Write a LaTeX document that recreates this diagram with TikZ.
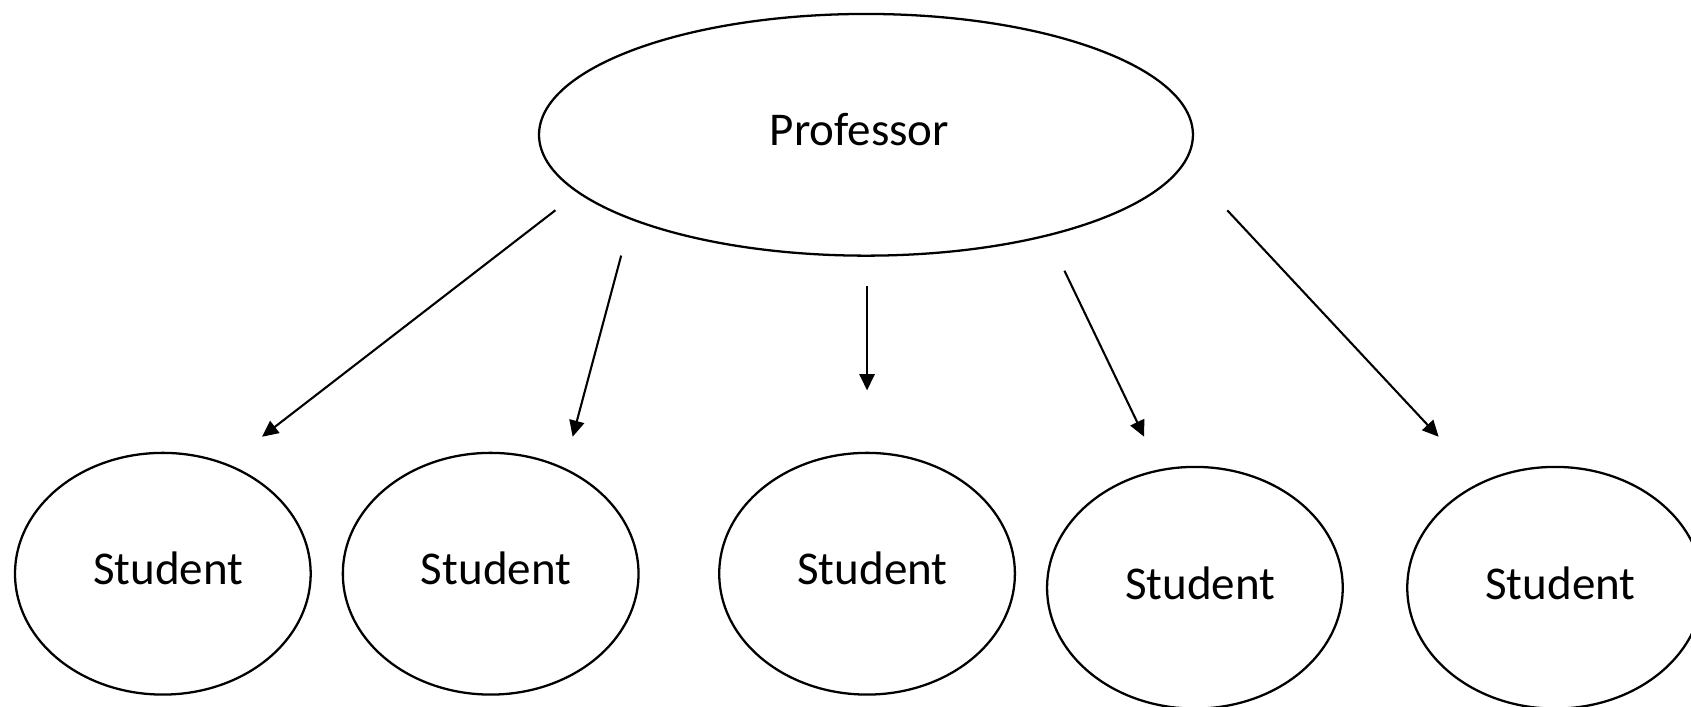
\documentclass[tikz,border=0pt]{standalone}
\usepackage{fontspec}
\setmainfont{Carlito}
\usetikzlibrary{arrows.meta,shapes.geometric}
\begin{document}
\begin{tikzpicture}[>={Triangle[length=0.15cm,width=0.14cm]},x=0.01cm,y=-0.01cm,line width=0.6pt,
	font=\fontsize{12.4}{14}\selectfont,
	oval/.style={draw,ellipse,inner sep=0pt,minimum width=#1 cm,minimum height=2.24cm},
	link/.style={->,line width=0.55pt}]
	\useasboundingbox (0,0) rectangle (1568,655);
	\node[oval=6.06] (prof) at (803,125) {};
	\draw (797,120) node{Professor};
	\node[oval=2.74] (stuA) at (151,532) {};
	\node[oval=2.74] (stuB) at (455,532) {};
	\node[oval=2.74] (stuC) at (804,532) {};
	\node[oval=2.74] (stuD) at (1108,545) {};
	\node[oval=2.74] (stuE) at (1442,545) {};
	\draw (156,527) node{Student};
	\draw (460,527) node{Student};
	\draw (809,527) node{Student};
	\draw (1113,541) node{Student};
	\draw (1447,541) node{Student};
	% arrows
	\coordinate (a1) at (515,195);
	\coordinate (b1) at (243,405);
	\coordinate (a2) at (576,237);
	\coordinate (b2) at (531,405);
	\coordinate (a3) at (804,265);
	\coordinate (b3) at (804,362);
	\coordinate (a4) at (987,251);
	\coordinate (b4) at (1061,405);
	\coordinate (a5) at (1138,195);
	\coordinate (b5) at (1334,405);
	\draw[link] (a1) -- (b1);
	\draw[link] (a2) -- (b2);
	\draw[link] (a3) -- (b3);
	\draw[link] (a4) -- (b4);
	\draw[link] (a5) -- (b5);
\end{tikzpicture}
\end{document}
